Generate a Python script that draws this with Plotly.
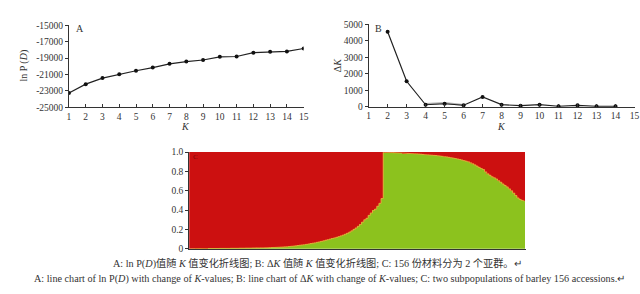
import plotly.graph_objects as go

# ---------------- data ----------------
k_values = list(range(1, 16))
lnpd = [-23250, -22170, -21430, -20970, -20540, -20150, -19690, -19420,
        -19225, -18840, -18800, -18330, -18220, -18180, -17830]

dk_k = list(range(2, 15))
delta_k = [4550, 1550, 130, 190, 100, 600, 135, 77, 135, 40, 97, 40, 40]
dk_grey_k = [4, 5, 6]
dk_grey = [170, 230, 120]

a_yticks = [-25000, -23000, -21000, -19000, -17000, -15000]
a_yticklabels = ["-25000", "-23000", "-21000", "-19000", "-17000", "-15000"]
b_yticks = [0, 1000, 2000, 3000, 4000, 5000]
c_yticks = [0, 0.2, 0.4, 0.6, 0.8, 1.0]
c_yticklabels = ["0", "0.2", "0.4", "0.6", "0.8", "1.0"]

# proportion of subpopulation 2 (green) for each of 156 accessions
green_pop1 = [
    0.000, 0.000, 0.000, 0.001, 0.001, 0.001, 0.001, 0.001, 0.001, 0.002,
    0.002, 0.002, 0.002, 0.002, 0.003, 0.003, 0.003, 0.003, 0.003, 0.004,
    0.004, 0.004, 0.004, 0.005, 0.005, 0.005, 0.006, 0.006, 0.006, 0.007,
    0.007, 0.008, 0.008, 0.009, 0.009, 0.010, 0.010, 0.011, 0.012, 0.013,
    0.014, 0.015, 0.016, 0.017, 0.019, 0.021, 0.023, 0.025, 0.027, 0.030,
    0.033, 0.036, 0.039, 0.042, 0.045, 0.049, 0.053, 0.057, 0.061, 0.066,
    0.071, 0.076, 0.082, 0.088, 0.094, 0.100, 0.106, 0.112, 0.118, 0.125,
    0.133, 0.141, 0.150, 0.160, 0.172, 0.185, 0.200, 0.215, 0.232, 0.250,
    0.275, 0.300, 0.315, 0.345, 0.370, 0.395, 0.410, 0.440, 0.470, 0.520,
]
green_pop2 = [
    0.998, 0.997, 0.996, 0.995, 0.994, 0.993, 0.992, 0.991, 0.990, 0.989,
    0.988, 0.987, 0.986, 0.985, 0.983, 0.982, 0.980, 0.978, 0.976, 0.974,
    0.972, 0.970, 0.968, 0.966, 0.964, 0.962, 0.959, 0.956, 0.953, 0.950,
    0.946, 0.942, 0.938, 0.934, 0.929, 0.924, 0.918, 0.912, 0.906, 0.900,
    0.890, 0.880, 0.868, 0.855, 0.842, 0.830, 0.820, 0.795, 0.775, 0.760,
    0.745, 0.735, 0.722, 0.705, 0.688, 0.670, 0.655, 0.640, 0.620, 0.600,
    0.575, 0.550, 0.525, 0.510, 0.500, 0.495,
]
green = green_pop1 + green_pop2
red = [round(1 - g, 3) for g in green]
accessions = list(range(len(green)))

caption_cn = "A: ln P(<i>D</i>)值随 <i>K</i> 值变化折线图; B: Δ<i>K</i> 值随 <i>K</i> 值变化折线图; C: 156 份材料分为 2 个亚群。↵"
caption_en = ("A: line chart of ln P(<i>D</i>) with change of <i>K</i>-values; B: line chart of Δ<i>K</i> "
              "with change of <i>K</i>-values; C: two subpopulations of barley 156 accessions.↵")

# ---------------- figure ----------------
W, H = 640, 294
def px(x):
    return x / W
def py(y):
    return 1 - y / H

SERIF = "Liberation Serif, Noto Sans CJK SC, serif"
INK = "#333333"
tickfont = dict(family=SERIF, size=9.5, color=INK)

fig = go.Figure()

fig.add_trace(go.Scatter(x=k_values, y=lnpd, mode="lines+markers",
                         line=dict(color="#222222", width=1.2),
                         marker=dict(color="#111111", size=4),
                         xaxis="x", yaxis="y", showlegend=False))

fig.add_trace(go.Scatter(x=dk_grey_k, y=dk_grey, mode="lines",
                         line=dict(color="#b0b0b0", width=2),
                         xaxis="x2", yaxis="y2", showlegend=False))
fig.add_trace(go.Scatter(x=dk_k, y=delta_k, mode="lines+markers",
                         line=dict(color="#222222", width=1.2),
                         marker=dict(color="#111111", size=4),
                         xaxis="x2", yaxis="y2", showlegend=False))

fig.add_trace(go.Bar(x=accessions, y=green, marker=dict(color="#8cc21e", line=dict(width=0)),
                     xaxis="x3", yaxis="y3", showlegend=False))
fig.add_trace(go.Bar(x=accessions, y=red, marker=dict(color="#cc1010", line=dict(width=0)),
                     xaxis="x3", yaxis="y3", showlegend=False))
fig.add_trace(go.Scatter(x=accessions, y=green, mode="lines", line_shape="hvh",
                         line=dict(color="#e3a83a", width=1),
                         xaxis="x3", yaxis="y3", showlegend=False))

axis_common = dict(showgrid=False, zeroline=False, showline=True, linecolor=INK,
                   linewidth=1, tickcolor=INK, ticklen=3, tickwidth=1, tickfont=tickfont)

fig.update_layout(
    width=W, height=H, margin=dict(l=0, r=0, t=0, b=0),
    paper_bgcolor="white", plot_bgcolor="rgba(0,0,0,0)",
    barmode="stack", bargap=0,
    xaxis=dict(domain=[px(67.7), px(305)], range=[1, 15], tickvals=k_values,
               ticks="inside", anchor="y", **axis_common),
    yaxis=dict(domain=[py(106), py(21)], range=[-25000, -15000], tickvals=a_yticks,
               ticktext=a_yticklabels, ticks="outside", anchor="x", **axis_common),
    xaxis2=dict(domain=[px(370.7), px(639.5)], range=[1, 15], tickvals=k_values,
                ticks="inside", anchor="y2", **axis_common),
    yaxis2=dict(domain=[py(105.5), py(20)], range=[0, 5000], tickvals=b_yticks,
                ticks="outside", anchor="x2", **axis_common),
    xaxis3=dict(domain=[px(189.3), px(529.3)], range=[-0.5, 155.5], showticklabels=False,
                ticks="", anchor="y3", **axis_common),
    yaxis3=dict(domain=[py(252.3), py(152.3)], range=[0, 1], tickvals=c_yticks,
                ticktext=c_yticklabels, ticks="outside", anchor="x3", **axis_common),
)

def ann(x, y, text, size=9, angle=0, color=INK, xanchor="center"):
    fig.add_annotation(x=px(x), y=py(y), xref="paper", yref="paper", text=text,
                       showarrow=False, textangle=angle, xanchor=xanchor, yanchor="middle",
                       font=dict(family=SERIF, size=size, color=color))

ann(79, 24, "A", size=10)
ann(381, 24, "B", size=10)
ann(196, 157, "C", size=7, color="#7a0808")
ann(22, 63, "ln P (<i>D</i>)", size=10, angle=-90)
ann(340, 62, "Δ<i>K</i>", size=10, angle=-90)
ann(186, 126, "<i>K</i>", size=10)
ann(505, 126, "<i>K</i>", size=10)
ann(319, 268, caption_cn, size=10.2)
ann(331, 284, caption_en, size=10.2)

fig.write_html("out.html")
